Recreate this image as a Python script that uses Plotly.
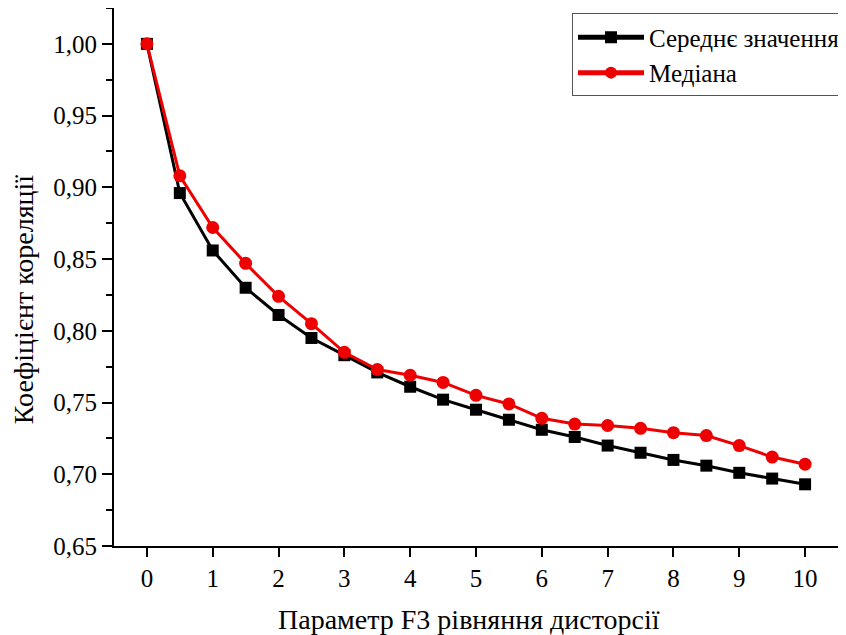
import plotly.graph_objects as go

x_vals = [0, 0.5, 1, 1.5, 2, 2.5, 3, 3.5, 4, 4.5, 5, 5.5, 6, 6.5, 7, 7.5, 8, 8.5, 9, 9.5, 10]
mean_vals = [1.000, 0.896, 0.856, 0.830, 0.811, 0.795, 0.783, 0.771, 0.761, 0.752, 0.745, 0.738,
             0.731, 0.726, 0.720, 0.715, 0.710, 0.706, 0.701, 0.697, 0.693]
median_vals = [1.000, 0.908, 0.872, 0.847, 0.824, 0.805, 0.785, 0.773, 0.769, 0.764, 0.755, 0.749,
               0.739, 0.735, 0.734, 0.732, 0.729, 0.727, 0.720, 0.712, 0.707]
x_ticks = [0, 1, 2, 3, 4, 5, 6, 7, 8, 9, 10]
y_ticks = [0.65, 0.70, 0.75, 0.80, 0.85, 0.90, 0.95, 1.00]
y_tick_labels = ["0,65", "0,70", "0,75", "0,80", "0,85", "0,90", "0,95", "1,00"]
x_title = "Параметр F3 рівняння дисторсії"
y_title = "Коефіцієнт кореляції"

FONT = "Liberation Serif"

fig = go.Figure()
fig.add_trace(go.Scatter(
    x=x_vals, y=mean_vals, mode="lines+markers", name="Середнє значення",
    line=dict(color="black", width=3),
    marker=dict(symbol="square", size=12, color="black"),
))
fig.add_trace(go.Scatter(
    x=x_vals, y=median_vals, mode="lines+markers", name="Медіана",
    line=dict(color="#ee0000", width=3),
    marker=dict(symbol="circle", size=13, color="#ee0000"),
))

# The page body has an 8px default margin; size and margins compensate for it.
fig.update_layout(
    width=838, height=627,
    paper_bgcolor="white", plot_bgcolor="white",
    margin=dict(l=106, r=7, t=0, b=89),
    font=dict(family=FONT, color="black", size=25),
    showlegend=True,
    legend=dict(
        x=0.633, y=0.99, xanchor="left", yanchor="top",
        bgcolor="white", bordercolor="#555555", borderwidth=1,
        font=dict(family=FONT, size=25, color="black"),
        tracegroupgap=0, itemsizing="constant", itemwidth=66,
    ),
    xaxis=dict(
        range=[-0.5, 10.5], tickmode="array", tickvals=x_ticks,
        ticktext=[str(v) for v in x_ticks],
        showline=True, linecolor="black", linewidth=2,
        ticks="outside", ticklen=9, tickwidth=2, tickcolor="black",
        showgrid=False, zeroline=False, automargin=False,
        tickfont=dict(family=FONT, size=25),
    ),
    yaxis=dict(
        range=[0.65, 1.025], tickmode="array", tickvals=y_ticks, ticktext=y_tick_labels,
        showline=True, linecolor="black", linewidth=2,
        ticks="outside", ticklen=10, tickwidth=2, tickcolor="black",
        minor=dict(ticks="outside", ticklen=6, tickwidth=2, tickcolor="black", dtick=0.025, tick0=0.65),
        showgrid=False, zeroline=False, automargin=False,
        tickfont=dict(family=FONT, size=25),
    ),
    annotations=[
        dict(text=x_title, xref="paper", yref="paper", x=0.491, y=-0.136,
             xanchor="center", yanchor="middle", showarrow=False,
             font=dict(family=FONT, size=28, color="black")),
        dict(text=y_title, xref="paper", yref="paper", x=-0.1255, y=0.459,
             xanchor="center", yanchor="middle", showarrow=False, textangle=-90,
             font=dict(family=FONT, size=28, color="black")),
    ],
)

fig.write_html("out.html")
